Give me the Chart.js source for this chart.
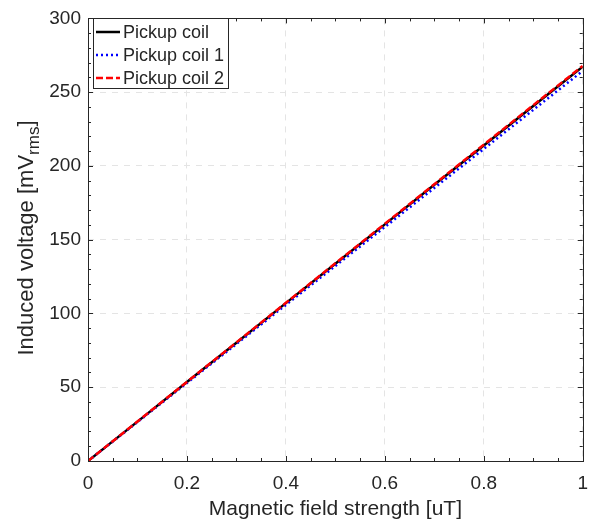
<!DOCTYPE html>
<html><head><meta charset="utf-8">
<script src="https://cdn.jsdelivr.net/npm/chart.js@4/dist/chart.umd.min.js"></script>
<style>html,body{margin:0;padding:0;background:#fff}#wrap{width:599px;height:525px}</style>
</head><body><div id="wrap"><canvas id="c" width="599" height="525"></canvas></div>
<script>
const fieldStrength = [0, 0.1, 0.2, 0.3, 0.4, 0.5, 0.6, 0.7, 0.8, 0.9, 1.0];
const pickupCoil  = [0, 26.7, 53.5, 80.2, 107.0, 133.7, 160.4, 187.2, 213.9, 240.6, 267.3];
const pickupCoil1 = [0, 26.4, 52.9, 79.3, 105.8, 132.2, 158.6, 185.1, 211.5, 238.0, 264.4];
const pickupCoil2 = [0, 26.8, 53.6, 80.4, 107.2, 134.0, 160.8, 187.6, 214.4, 241.2, 267.8];
const seriesNames = ['Pickup coil', 'Pickup coil 1', 'Pickup coil 2'];
const xTickValues = [0, 0.2, 0.4, 0.6, 0.8, 1];
const yTickValues = [0, 50, 100, 150, 200, 250, 300];
const xMinorStep = 0.05;
const yMinorStep = 10;

const FONT = '"Liberation Sans", Arial, sans-serif';
const AX = '#262626';

function pts(ys){ return fieldStrength.map((x,i)=>({x:x, y:ys[i]})); }

const boxPlugin = {
  id:'boxPlugin',
  afterDraw(chart){
    const ctx = chart.ctx, a = chart.chartArea, xs = chart.scales.x, ys = chart.scales.y;
    ctx.save();
    ctx.strokeStyle = AX; ctx.lineWidth = 1;
    ctx.beginPath();
    for (let v = 0; v <= 1.0001; v += xMinorStep) {
      const px = Math.round(xs.getPixelForValue(v)) + 0.5;
      const major = xTickValues.some(t => Math.abs(t - v) < 1e-6);
      const L = major ? 5 : 3;
      ctx.moveTo(px, a.bottom); ctx.lineTo(px, a.bottom - L);
      ctx.moveTo(px, a.top); ctx.lineTo(px, a.top + L);
    }
    for (let v = 0; v <= 300.001; v += yMinorStep) {
      const py = Math.round(ys.getPixelForValue(v)) + 0.5;
      const major = yTickValues.some(t => Math.abs(t - v) < 1e-6);
      const L = major ? 5 : 3;
      ctx.moveTo(a.left, py); ctx.lineTo(a.left + L, py);
      ctx.moveTo(a.right, py); ctx.lineTo(a.right - L, py);
    }
    ctx.stroke();
    ctx.strokeRect(Math.round(a.left)+0.5, Math.round(a.top)+0.5, Math.round(a.right-a.left), Math.round(a.bottom-a.top));

    // x title
    ctx.fillStyle = AX;
    ctx.font = '21px ' + FONT;
    ctx.textAlign = 'center'; ctx.textBaseline = 'middle';
    ctx.fillText('Magnetic field strength [uT]', (a.left + a.right)/2, 509);

    // y title with subscript
    ctx.save();
    ctx.translate(27, 238);
    ctx.rotate(-Math.PI/2);
    const main1 = 'Induced voltage [mV', sub = 'rms', main2 = ']';
    ctx.font = '22px ' + FONT;
    const w1 = ctx.measureText(main1).width, w3 = ctx.measureText(main2).width;
    ctx.font = '17px ' + FONT;
    const w2 = ctx.measureText(sub).width;
    const tot = w1 + w2 + w3;
    let x0 = -tot/2;
    ctx.textAlign = 'left'; ctx.textBaseline = 'alphabetic';
    ctx.font = '22px ' + FONT;
    ctx.fillText(main1, x0, 6);
    ctx.font = '17px ' + FONT;
    ctx.fillText(sub, x0 + w1, 12);
    ctx.font = '22px ' + FONT;
    ctx.fillText(main2, x0 + w1 + w2, 6);
    ctx.restore();

    // legend
    const lx = 93, ly = 18, lw = 135, lh = 70;
    ctx.fillStyle = '#fff';
    ctx.fillRect(lx, ly, lw, lh);
    ctx.strokeStyle = AX; ctx.lineWidth = 1; ctx.setLineDash([]);
    ctx.strokeRect(lx + 0.5, ly + 0.5, lw, lh);
    ctx.font = '18px ' + FONT;
    ctx.textAlign = 'left'; ctx.textBaseline = 'middle';
    chart.data.datasets.forEach((ds, i) => {
      const yy = ly + 14 + i*23;
      ctx.save();
      ctx.strokeStyle = ds.borderColor; ctx.lineWidth = 2.5;
      ctx.setLineDash(ds.borderDash || []);
      ctx.beginPath(); ctx.moveTo(lx + 3, yy); ctx.lineTo(lx + 27, yy); ctx.stroke();
      ctx.restore();
      ctx.fillStyle = AX;
      ctx.fillText(ds.label, lx + 30, yy + 1);
    });
    ctx.restore();
  }
};

new Chart(document.getElementById('c'), {
  type: 'line',
  data: {
    datasets: [
      { label: seriesNames[0], order: 2, data: pts(pickupCoil), borderColor: '#000000', borderWidth: 2.5, pointRadius: 0, fill: false, tension: 0 },
      { label: seriesNames[1], order: 1, data: pts(pickupCoil1), borderColor: '#0000ff', borderWidth: 2.5, borderDash: [2, 3], pointRadius: 0, fill: false, tension: 0 },
      { label: seriesNames[2], order: 0, data: pts(pickupCoil2), borderColor: '#ff0000', borderWidth: 2.5, borderDash: [7, 3], pointRadius: 0, fill: false, tension: 0 }
    ]
  },
  options: {
    responsive: false, animation: false,
    layout: { padding: { top: 10, right: 13, left: 0, bottom: 0 } },
    plugins: { legend: { display: false }, tooltip: { enabled: false } },
    scales: {
      x: {
        type: 'linear', min: 0, max: 1,
        afterBuildTicks: s => { s.ticks = xTickValues.map(v => ({ value: v })); },
        afterFit: s => { s.height = 64; },
        ticks: { font: { family: FONT, size: 19 }, color: AX, padding: 11, maxRotation: 0,
                 callback: v => String(Math.round(v*10)/10) },
        grid: { color: '#e4e4e4', lineWidth: 1, drawTicks: false },
        border: { display: false, dash: [6, 6] }
      },
      y: {
        type: 'linear', min: 0, max: 300,
        afterBuildTicks: s => { s.ticks = yTickValues.map(v => ({ value: v })); },
        afterFit: s => { s.width = 88; },
        ticks: { font: { family: FONT, size: 19 }, color: AX, padding: 7,
                 callback: v => String(v) },
        grid: { color: '#e4e4e4', lineWidth: 1, drawTicks: false },
        border: { display: false, dash: [6, 6] }
      }
    }
  },
  plugins: [boxPlugin]
});
</script>
</body></html>
